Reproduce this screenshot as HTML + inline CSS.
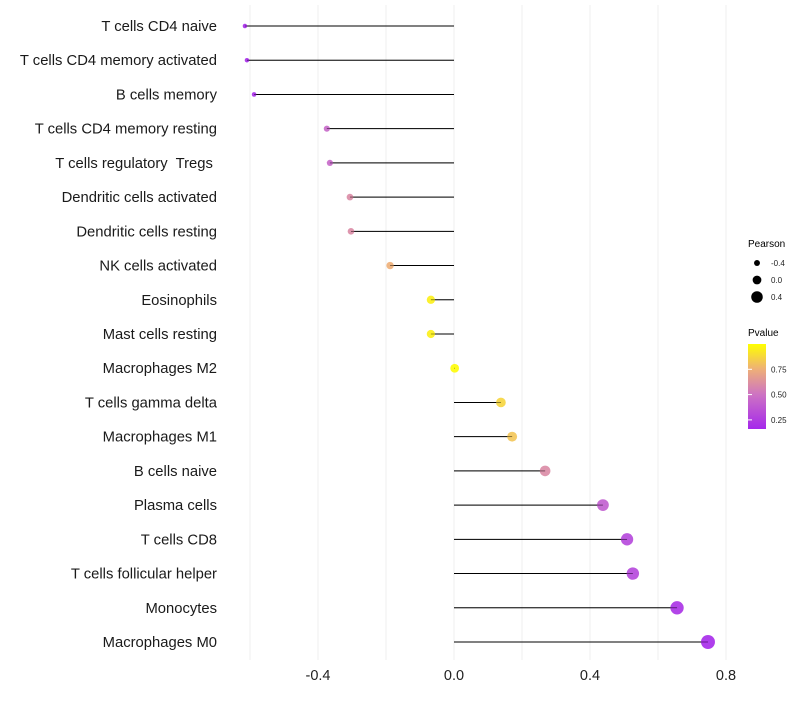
<!DOCTYPE html>
<html><head><meta charset="utf-8"><style>
body{margin:0;background:#fff;font-family:"Liberation Sans",sans-serif}
text{white-space:pre}
</style></head><body>
<svg id="c" width="800" height="700" xmlns="http://www.w3.org/2000/svg"></svg>
<script>
const categories=["T cells CD4 naive","T cells CD4 memory activated","B cells memory","T cells CD4 memory resting","T cells regulatory  Tregs ","Dendritic cells activated","Dendritic cells resting","NK cells activated","Eosinophils","Mast cells resting","Macrophages M2","T cells gamma delta","Macrophages M1","B cells naive","Plasma cells","T cells CD8","T cells follicular helper","Monocytes","Macrophages M0"];
const pearson=[-0.615,-0.609,-0.588,-0.374,-0.365,-0.306,-0.303,-0.188,-0.068,-0.068,0.002,0.138,0.171,0.268,0.438,0.509,0.526,0.656,0.747];
const pvalue=[0.17,0.17,0.18,0.45,0.45,0.6,0.6,0.75,0.95,0.95,0.99,0.87,0.82,0.6,0.4,0.3,0.3,0.2,0.17];
const xTicks=[-0.4,0.0,0.4,0.8];
const xTickLabels=["-0.4","0.0","0.4","0.8"];
const sizeLegend=[-0.4,0.0,0.4];
const pLegend=[0.25,0.5,0.75];

const NS="http://www.w3.org/2000/svg",svg=document.getElementById('c');
const xs=v=>454+v*340;
const ys=i=>26+i*(616/18);
const rs=v=>2.2+(v+0.62)*3.5;
const stops=[[0.16,[165,40,235]],[0.5,[205,115,195]],[0.75,[238,175,120]],[1.0,[255,255,0]]];
function col(p){p=Math.max(0.16,Math.min(1,p));for(let k=0;k<stops.length-1;k++){const a=stops[k],b=stops[k+1];if(p<=b[0]){const t=(p-a[0])/(b[0]-a[0]);const c=a[1].map((x,j)=>Math.round(x+(b[1][j]-x)*t));return `rgb(${c})`;}}return 'rgb(255,255,0)';}
function el(t,a,txt){const e=document.createElementNS(NS,t);for(const k in a)e.setAttribute(k,a[k]);if(txt!=null)e.textContent=txt;svg.appendChild(e);return e;}
for(let g=-0.6;g<=0.81;g+=0.2){const x=xs(g);const l=el('line',{x1:x,x2:x,y1:5,y2:660,stroke:'#efefef','stroke-width':1});

}
xTicks.forEach((v,i)=>{const t=el('text',{x:xs(v),y:680,'text-anchor':'middle','font-size':14.5,fill:'#222'},xTickLabels[i]);

});
categories.forEach((c,i)=>{const y=ys(i);
const t=el('text',{x:217,y:y+5,'text-anchor':'end','font-size':14.8,fill:'#1a1a1a'},c);


const l=el('line',{x1:xs(0),x2:xs(pearson[i]),y1:y,y2:y,stroke:'#000','stroke-width':1});


const p=el('circle',{cx:xs(pearson[i]),cy:y,r:rs(pearson[i]),fill:col(pvalue[i]),'fill-opacity':0.9});


const l2=el('line',{x1:xs(0),x2:xs(pearson[i]),y1:y,y2:y,stroke:'#000','stroke-width':0.6,'stroke-opacity':0.6});

});
const lt=el('text',{x:748,y:247,'font-size':10,fill:'#000'},'Pearson');


sizeLegend.forEach((v,i)=>{const y=263+i*17;
const c=el('circle',{cx:757,cy:y,r:rs(v),fill:'#000'});


const t=el('text',{x:771,y:y+3,'font-size':8,fill:'#222'},v.toFixed(1));

});
const pt=el('text',{x:748,y:336,'font-size':10,fill:'#000'},'Pvalue');


const defs=el('defs',{});const lg=document.createElementNS(NS,'linearGradient');lg.setAttribute('id','pg');lg.setAttribute('x1',0);lg.setAttribute('y1',1);lg.setAttribute('x2',0);lg.setAttribute('y2',0);defs.appendChild(lg);
const pMin=0.16,pMax=1.0;
stops.forEach(s=>{const st=document.createElementNS(NS,'stop');st.setAttribute('offset',(s[0]-pMin)/(pMax-pMin));st.setAttribute('stop-color',`rgb(${s[1]})`);lg.appendChild(st);});
const bar=el('rect',{x:748,y:344,width:18,height:85,fill:'url(#pg)'});


const py=p=>429-(p-pMin)/(pMax-pMin)*85;
pLegend.forEach(v=>{
const tk=el('line',{x1:748,x2:752,y1:py(v),y2:py(v),stroke:'#fff'});


const t=el('text',{x:771,y:py(v)+3,'font-size':8,fill:'#222'},v.toFixed(2));

});
</script>
</body></html>
